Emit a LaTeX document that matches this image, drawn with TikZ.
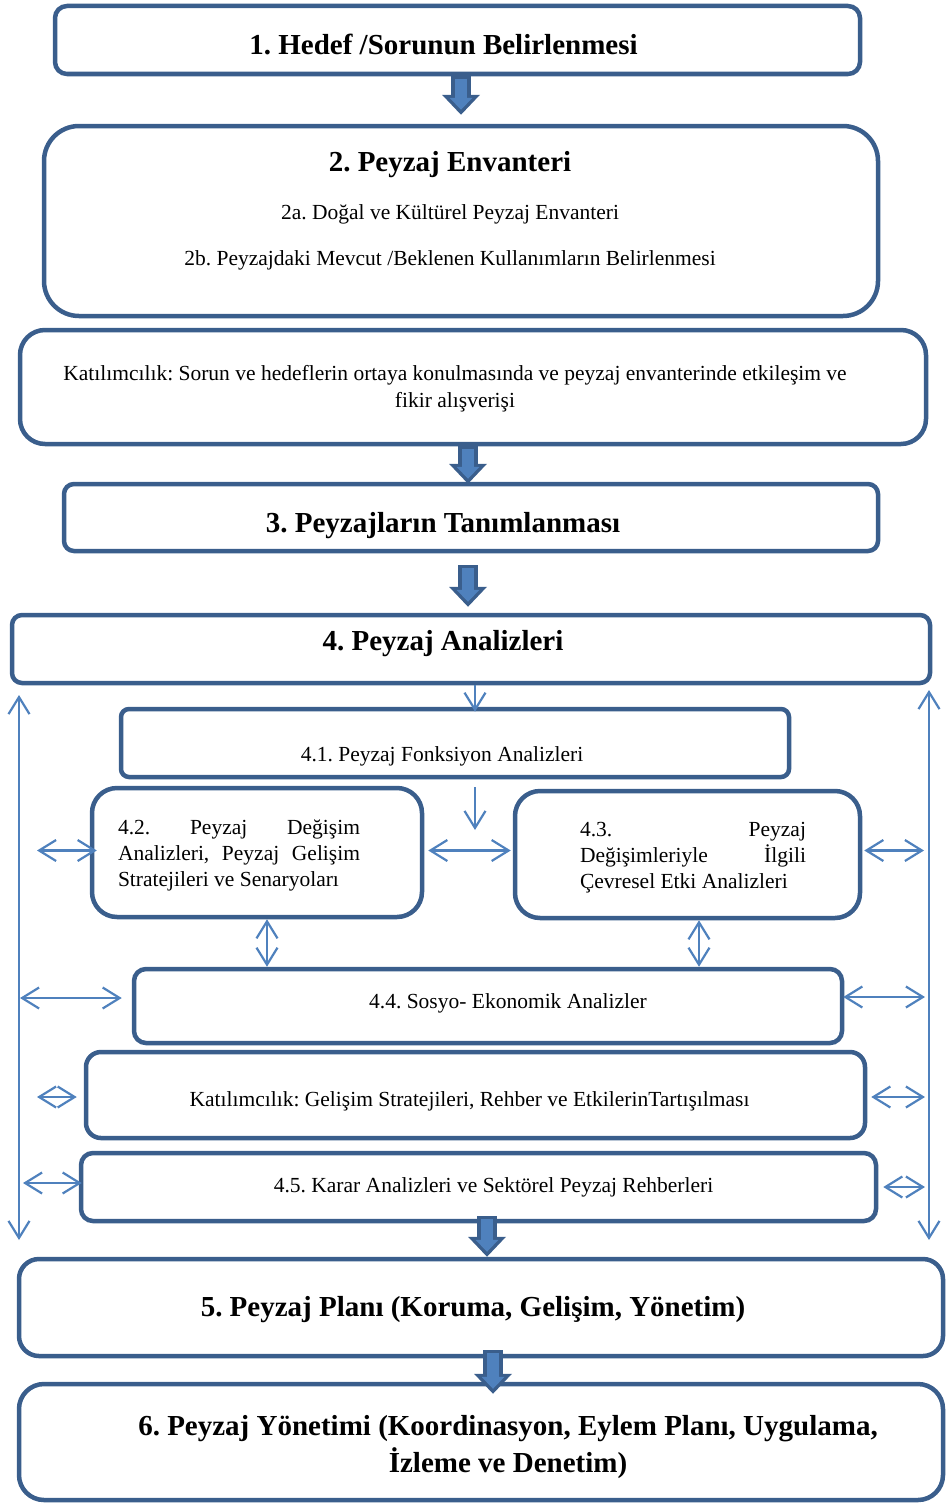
\documentclass[tikz,border=0pt]{standalone}
\usepackage{fontspec}
\setmainfont{Liberation Serif}
\usetikzlibrary{arrows.meta,calc}
\definecolor{boxblue}{RGB}{58,94,140}
\definecolor{arrowblue}{RGB}{79,129,189}
\frenchspacing

\begin{document}
\begin{tikzpicture}[x=1pt,y=-1pt]
\tikzset{
block/.style={rectangle,draw=boxblue,fill=white,line width=4.5pt,inner sep=0pt,font=\fontsize{21.5}{26}\selectfont},
title/.style={font=\fontsize{29}{36}\selectfont\bfseries},
tshift/.style={execute at begin node={\hspace*{#1}},execute at end node={\hspace*{-#1}}},
fatarrow/.style={draw=boxblue,line width=20pt,-{Triangle[width=38pt,length=20pt,line width=0pt]},
  postaction={draw=arrowblue,line width=12pt,-{Triangle[width=23pt,length=12pt,line width=0pt]},shorten <=3pt,shorten >=5pt}},
myarrow/.style={draw=arrowblue,line width=2.2pt,-{Straight Barb[length=17pt,width=21pt]}},
mydoublearrow/.style={myarrow,{Straight Barb[length=17pt,width=21pt]}-{Straight Barb[length=17pt,width=21pt]}},
}
\useasboundingbox (0,0) rectangle (945,1504);

% main steps
\node[block,title,tshift=-14pt,text height=30pt,minimum width=805pt,minimum height=68pt,rounded corners=12pt] (hedef) at (457.5,40) {1. Hedef /Sorunun Belirlenmesi};
\node[block,align=center,text depth=25pt,minimum width=834pt,minimum height=190pt,rounded corners=35pt,font=\fontsize{21.5}{46}\selectfont] (envanter) at (461,221)
  {\hspace*{-22pt}{\fontsize{29}{36}\selectfont\bfseries 2. Peyzaj Envanteri}\\[1.5pt]
   \hspace*{-22pt}2a. Doğal ve Kültürel Peyzaj Envanteri\\
   \hspace*{-22pt}2b. Peyzajdaki Mevcut /Beklenen Kullanımların Belirlenmesi};
\node[block,align=center,minimum width=906pt,minimum height=114pt,rounded corners=25pt,font=\fontsize{21.5}{27}\selectfont] (katilim) at (473,387)
  {\hspace*{-36pt}\rule{0pt}{18.7pt}Katılımcılık: Sorun ve hedeflerin ortaya konulmasında ve peyzaj envanterinde etkileşim ve\\
   \hspace*{-36pt}fikir alışverişi};
\node[block,title,tshift=-28pt,text height=35.6pt,minimum width=814pt,minimum height=67pt,rounded corners=10pt] (tanim) at (471,517.5) {3. Peyzajların Tanımlanması};
\node[block,title,tshift=-28pt,text depth=18pt,minimum width=918pt,minimum height=68pt,rounded corners=10pt] (analiz) at (471,649) {4. Peyzaj Analizleri};

% analyses
\node[block,tshift=-13pt,text height=41pt,minimum width=668pt,minimum height=68pt,rounded corners=8pt] (fonksiyon) at (455,743) {4.1. Peyzaj Fonksiyon Analizleri};
\node[block,tshift=-18pt,minimum width=330pt,minimum height=129pt,rounded corners=25pt] (degisim) at (257,852.5)
  {\parbox{242pt}{\rule{0pt}{20pt}4.2.\hfill Peyzaj\hfill Değişim\\Analizleri,\hfill Peyzaj\hfill Gelişim\\Stratejileri ve Senaryoları}};
\node[block,tshift=5.5pt,minimum width=345pt,minimum height=127pt,rounded corners=25pt] (etki) at (687.5,854.5)
  {\parbox{226pt}{\rule{0pt}{20.5pt}4.3.\hfill Peyzaj\\Değişimleriyle\hfill İlgili\\Çevresel Etki Analizleri}};
\node[block,tshift=20pt,text depth=10.7pt,minimum width=708pt,minimum height=74pt,rounded corners=12pt] (sosyo) at (488,1006) {4.4. Sosyo- Ekonomik Analizler};
\node[block,tshift=-6pt,text height=26.7pt,minimum width=779pt,minimum height=86pt,rounded corners=15pt] (katilimm) at (475.5,1095) {Katılımcılık: Gelişim Stratejileri, Rehber ve EtkilerinTartışılması};
\node[block,tshift=15pt,minimum width=795pt,minimum height=68pt,rounded corners=12pt] (karar) at (478.5,1187) {4.5. Karar Analizleri ve Sektörel Peyzaj Rehberleri};

% plan and management
\node[block,title,tshift=-8pt,text height=24pt,minimum width=924pt,minimum height=97pt,rounded corners=20pt] (plan) at (481,1307.5) {5. Peyzaj Planı (Koruma, Gelişim, Yönetim)};
\node[block,align=center,minimum width=924pt,minimum height=116pt,rounded corners=25pt,font=\fontsize{29}{37}\selectfont\bfseries] (yonetim) at (481,1442)
  {\hspace*{54pt}\rule{0pt}{30pt}6. Peyzaj Yönetimi (Koordinasyon, Eylem Planı, Uygulama,\\
   \hspace*{54pt}İzleme ve Denetim)};

% side rails
\coordinate (ltop) at (19,695);
\coordinate (lbot) at (19,1240);
\coordinate (rtop) at (929,690);
\coordinate (rbot) at (929,1240);
\coordinate (gap) at (475,830);
\draw[mydoublearrow] (ltop) -- (lbot);
\draw[mydoublearrow] (rtop) -- (rbot);

\draw[myarrow] ($(analiz.south)+(4,0)$) -- ($(fonksiyon.north -| gap)+(0,5)$);
\draw[myarrow] ($(fonksiyon.south -| gap)+(0,8)$) -- (gap);
\draw[mydoublearrow] ($(degisim.east)+(4,-2)$) -- ($(etki.west)+(-2,-4)$);
\draw[mydoublearrow] ($(degisim.south)+(10,0)$) -- ($(sosyo.north -| degisim.south)+(10,0)$);
\draw[mydoublearrow] ($(etki.south)+(11.5,0)$) -- ($(sosyo.north -| etki.south)+(11.5,0)$);

\draw[mydoublearrow] ($(ltop |- degisim.west)+(18,-2)$) -- ($(degisim.west)+(7,-2)$);
\draw[mydoublearrow] ($(ltop |- sosyo.west)+(1,-8)$) -- ($(sosyo.west)+(-10,-8)$);
\draw[mydoublearrow] ($(ltop |- katilimm.west)+(18,2)$) -- ($(katilimm.west)+(-7,2)$);
\draw[mydoublearrow] ($(ltop |- karar.west)+(4,-4)$) -- ($(karar.west)+(3,-4)$);
\draw[mydoublearrow] ($(etki.east)+(2,-4)$) -- ($(rtop |- etki.east)+(-5,-4)$);
\draw[mydoublearrow] ($(sosyo.east)+(-1,-9)$) -- ($(rtop |- sosyo.east)+(-4,-9)$);
\draw[mydoublearrow] ($(katilimm.east)+(4,2)$) -- ($(rtop |- katilimm.east)+(-4,2)$);
\draw[mydoublearrow] ($(karar.east)+(5,0)$) -- ($(rtop |- karar.east)+(-4,0)$);

% block arrows
\draw[fatarrow] (envanter.north |- hedef.south) -- ($(envanter.north)+(0,-9)$);
\draw[fatarrow] ($(katilim.south)+(-5,0)$) -- ($(tanim.north -| katilim.south)+(-5,2)$);
\draw[fatarrow] ($(tanim.south)+(-3,12)$) -- ($(analiz.north -| tanim.south)+(-3,-6)$);
\draw[fatarrow] ($(karar.south)+(8.5,-7)$) -- ($(plan.north -| karar.south)+(8.5,0)$);
\draw[fatarrow] ($(plan.south)+(12,-8)$) -- ($(yonetim.north)+(12,12)$);
\end{tikzpicture}
\end{document}
